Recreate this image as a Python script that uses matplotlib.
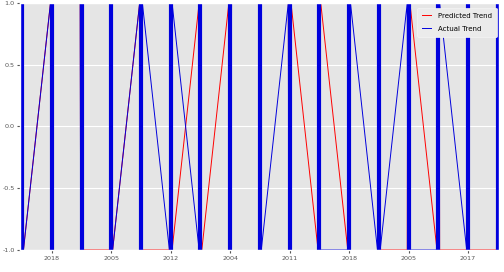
import matplotlib
matplotlib.use("Agg")
import matplotlib.pyplot as plt
import numpy as np

plt.style.use("ggplot")

# day index positions
days = list(range(17))
# trend value at the open / close of each day (intraday oscillation between -1 and 1)
pred_open  = [-1, 1, 1, -1, 1, -1, 1, 1, 1, 1, -1, -1, 1, -1, -1, -1, -1]
pred_close = [-1, 1, -1, -1, -1, -1, -1, 1, 1, 1, 1, 1, -1, 1, -1, -1, -1]
act_open   = [-1, 1, 1, 1, 1, -1, -1, 1, 1, 1, 1, -1, -1, 1, -1, -1, 1]
act_close  = [-1, 1, 1, -1, 1, 1, 1, 1, -1, 1, -1, 1, -1, -1, 1, 1, 1]
tick_pos = [1, 3, 5, 7, 9, 11, 13, 15]
tick_labels = ["2018", "2005", "2012", "2004", "2011", "2018", "2005", "2017"]

HALF = 0.045  # half width of an intraday cluster (in day units)


def build(opens, closes):
    xs, ys = [], []
    for d, o, c in zip(days, opens, closes):
        seq = [o, -o, o, -o, o, -o, c]
        xx = np.linspace(d - HALF, d + HALF, len(seq))
        xs.extend(xx)
        ys.extend(seq)
    return np.array(xs), np.array(ys)


fig = plt.figure(figsize=(5.04, 2.72), dpi=100)
ax = fig.add_axes([0.040, 0.081, 0.950, 0.908])

px, py = build(pred_open, pred_close)
axx, ayy = build(act_open, act_close)

ax.plot(px, py, color="red", lw=0.7, label="Predicted Trend")
ax.plot(axx, ayy, color="#0000dd", lw=0.7, label="Actual Trend")
ax.vlines(days, -1, 1, color="#0000dd", lw=3.0)

ax.set_xlim(-0.065, 16 + 0.04)
ax.set_ylim(-1, 1)
ax.set_yticks([-1.0, -0.5, 0.0, 0.5, 1.0])
ax.set_yticklabels(["-1.0", "-0.5", "0.0", "0.5", "1.0"])
ax.set_xticks(tick_pos)
ax.set_xticklabels(tick_labels)
ax.tick_params(labelsize=4.6, colors="#555555", length=2, pad=2)
ax.grid(True, color="white", lw=0.8)

leg = ax.legend(loc="upper right", fontsize=5, frameon=True, handlelength=1.3,
                handletextpad=1.0, borderpad=0.7, labelspacing=1.0,
                bbox_to_anchor=(497 / 504, 1 - 8 / 272),
                bbox_transform=fig.transFigure, borderaxespad=0)
leg.get_frame().set_facecolor("#ebebeb")
leg.get_frame().set_edgecolor("#f4f4f4")
leg.get_frame().set_alpha(1.0)

fig.savefig("out.png", dpi=100)
